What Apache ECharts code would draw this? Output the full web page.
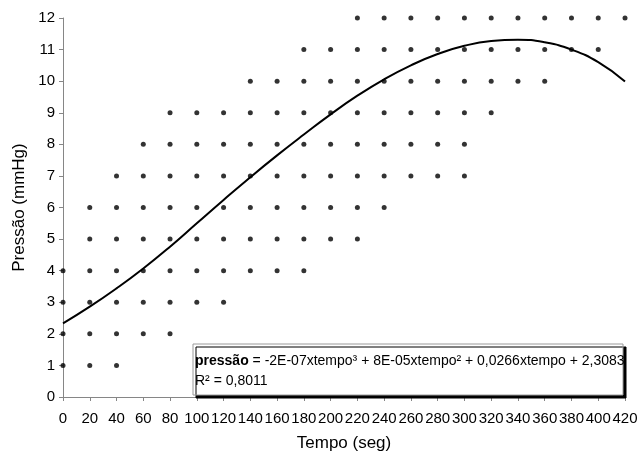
<!DOCTYPE html>
<html><head><meta charset="utf-8">
<script src="https://cdn.jsdelivr.net/npm/echarts@6/dist/echarts.min.js"></script>
<style>html,body{margin:0;padding:0;background:#fff}#c{width:638px;height:453px}</style>
</head><body><div id="c"></div>
<script>
// Observed pressure values (mmHg) at each time (s): each column holds one point per integer from low to high
const times = [0,20,40,60,80,100,120,140,160,180,200,220,240,260,280,300,320,340,360,380,400,420];
const pressureLow  = [1,1,1,2,2,3,3,4,4,4,5,5,6,7,7,7,9,10,10,11,11,12];
const pressureHigh = [4,6,7,8,9,9,9,10,10,11,11,12,12,12,12,12,12,12,12,12,12,12];
// Trend curve
const trendValues = [2.33,2.86,3.44,4.07,4.76,5.50,6.24,6.96,7.65,8.31,8.95,9.54,10.06,10.50,10.86,11.12,11.27,11.31,11.23,11.00,10.60,9.99];
const eqText = "pressão";
const eqRest = " = -2E-07xtempo³ + 8E-05xtempo² + 0,0266xtempo + 2,3083";
const r2Text = "R² = 0,8011";

const points = [];
times.forEach((t,i)=>{ for(let v=pressureLow[i]; v<=pressureHigh[i]; v++) points.push([t,v]); });
const trend = times.map((t,i)=>[t,trendValues[i]]);

const chart = echarts.init(document.getElementById('c'));
const font = '"Liberation Sans", Arial, sans-serif';
const axisCol = '#868686';
chart.setOption({
  animation:false,
  grid:{left:63,right:13,top:18,bottom:56,containLabel:false,outerBoundsMode:'none'},
  xAxis:{type:'value',min:0,max:420,interval:20,
    name:'Tempo (seg)',nameLocation:'middle',nameGap:38,
    nameTextStyle:{fontFamily:font,fontSize:17,color:'#000'},
    axisLine:{show:true,lineStyle:{color:axisCol,width:1}},
    axisTick:{show:true,length:4,lineStyle:{color:axisCol}},
    axisLabel:{fontFamily:font,fontSize:15,color:'#000',margin:14},
    splitLine:{show:false}},
  yAxis:{type:'value',min:0,max:12,interval:1,
    name:'Pressão (mmHg)',nameLocation:'middle',nameGap:32,
    nameTextStyle:{fontFamily:font,fontSize:17,color:'#000'},
    axisLine:{show:true,lineStyle:{color:axisCol,width:1}},
    axisTick:{show:true,length:4,lineStyle:{color:axisCol}},
    axisLabel:{fontFamily:font,fontSize:15,color:'#000',margin:8},
    splitLine:{show:false}},
  series:[
    {type:'scatter',data:points,symbol:'circle',symbolSize:5,itemStyle:{color:'#000'},z:3},
    {type:'line',data:trend,smooth:0.5,symbol:'none',lineStyle:{color:'#000',width:2},z:4}
  ],
  graphic:[
    {type:'rect',z:100,shape:{x:193,y:344,width:430,height:51},
     style:{fill:'#fff',stroke:'#9a9a9a',lineWidth:1,shadowColor:'#000',shadowBlur:0,shadowOffsetX:3,shadowOffsetY:3}},
    {type:'text',z:101,x:195,y:351,
     style:{text:'{b|'+eqText+'}{n|'+eqRest+'}\n{n|'+r2Text+'}',
       rich:{b:{fontFamily:font,fontSize:14,fontWeight:'bold',fill:'#000',lineHeight:20},
             n:{fontFamily:font,fontSize:14,fill:'#000',lineHeight:20}}}}
  ]
});
</script></body></html>
